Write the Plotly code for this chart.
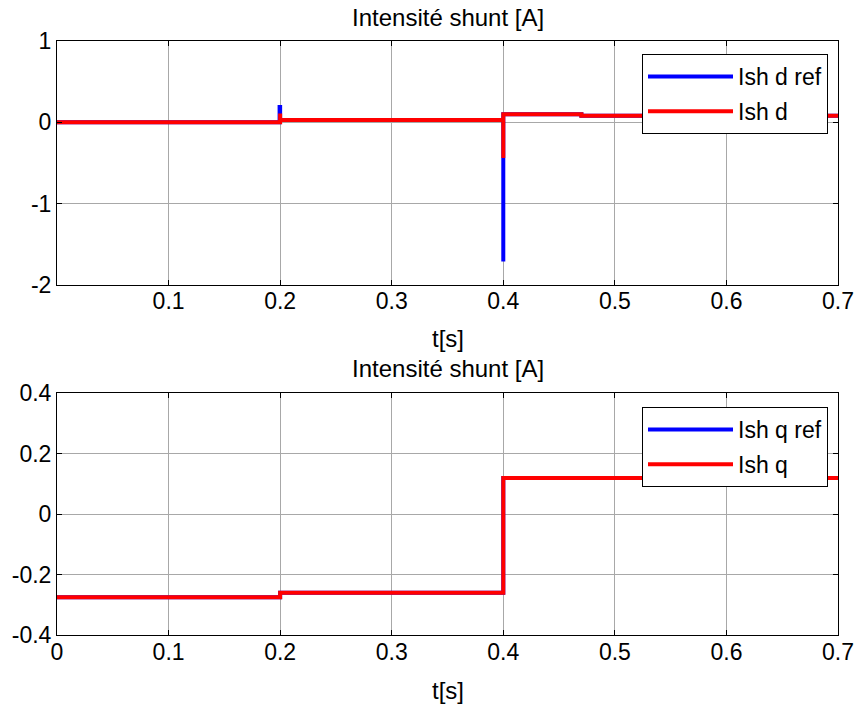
import plotly.graph_objects as go

# ---- data ----
t_d_ref = [0, 0.1995, 0.1995, 0.2, 0.2, 0.4, 0.4, 0.4, 0.47, 0.47, 0.7]
isd_ref = [0, 0, 0.19, 0.19, 0.03, 0.03, -1.71, 0.1, 0.1, 0.08, 0.08]
t_d = [0, 0.2, 0.2, 0.2, 0.4, 0.4, 0.4, 0.47, 0.47, 0.7]
isd = [0, 0, 0.11, 0.03, 0.03, -0.44, 0.1, 0.1, 0.08, 0.08]

t_q_ref = [0, 0.2, 0.2, 0.4, 0.4, 0.7]
isq_ref = [-0.275, -0.275, -0.26, -0.26, 0.119, 0.119]
t_q = [0, 0.2, 0.2, 0.4, 0.4, 0.7]
isq = [-0.275, -0.275, -0.26, -0.26, 0.119, 0.119]

x_ticks_top = [0.1, 0.2, 0.3, 0.4, 0.5, 0.6, 0.7]
x_ticks_bot = [0, 0.1, 0.2, 0.3, 0.4, 0.5, 0.6, 0.7]
y_ticks_top = [-2, -1, 0, 1]
y_ticks_bot = [-0.4, -0.2, 0, 0.2, 0.4]
title_text = "Intensité shunt [A]"
xlabel = "t[s]"

W, H = 857, 706
FONT = "Liberation Sans, Arial, sans-serif"
FS_TICK = 23
FS_TITLE = 24
FS_LEG = 23

def lbl(v):
    return "%g" % v

fig = go.Figure()
fig.add_trace(go.Scatter(x=t_d_ref, y=isd_ref, mode="lines", name="Ish d ref",
                         line=dict(color="#0000ff", width=4), xaxis="x", yaxis="y",
                         legend="legend", legendgroup="a"))
fig.add_trace(go.Scatter(x=t_d, y=isd, mode="lines", name="Ish d",
                         line=dict(color="#ff0000", width=4), xaxis="x", yaxis="y",
                         legend="legend", legendgroup="b"))
fig.add_trace(go.Scatter(x=t_q_ref, y=isq_ref, mode="lines", name="Ish q ref",
                         line=dict(color="#0000ff", width=4), xaxis="x2", yaxis="y2",
                         legend="legend2", legendgroup="c"))
fig.add_trace(go.Scatter(x=t_q, y=isq, mode="lines", name="Ish q",
                         line=dict(color="#ff0000", width=4), xaxis="x2", yaxis="y2",
                         legend="legend2", legendgroup="d"))

L, R = 57, 838
top_y0, top_y1 = 41, 285
bot_y0, bot_y1 = 393, 635

def py(p):
    return 1 - p / H

axis_common = dict(showline=True, linecolor="black", linewidth=1, mirror="allticks",
                   ticks="inside", ticklen=5, tickcolor="black",
                   showgrid=True, gridcolor="#a8a8a8", gridwidth=1,
                   zeroline=False, automargin=False,
                   tickfont=dict(family=FONT, size=FS_TICK, color="black"))

leg_common = dict(xanchor="right", yanchor="top", bgcolor="white",
                  bordercolor="black", borderwidth=1,
                  font=dict(family=FONT, size=FS_LEG, color="black"),
                  tracegroupgap=2, itemwidth=85)

fig.update_layout(
    width=W, height=H,
    margin=dict(l=L, r=W - R, t=0, b=0, autoexpand=False),
    paper_bgcolor="white", plot_bgcolor="white",
    showlegend=True,
    xaxis=dict(domain=[0, 1], range=[0, 0.7], anchor="y", ticklabelstandoff=-5,
               tickvals=x_ticks_top, ticktext=[lbl(v) for v in x_ticks_top], **axis_common),
    yaxis=dict(domain=[py(top_y1), py(top_y0)], range=[-2, 1], anchor="x",
               tickvals=y_ticks_top, ticktext=[lbl(v) for v in y_ticks_top], **axis_common),
    xaxis2=dict(domain=[0, 1], range=[0, 0.7], anchor="y2", ticklabelstandoff=-4,
                tickvals=x_ticks_bot, ticktext=[lbl(v) for v in x_ticks_bot], **axis_common),
    yaxis2=dict(domain=[py(bot_y1), py(bot_y0)], range=[-0.4, 0.4], anchor="x2",
                tickvals=y_ticks_bot, ticktext=[lbl(v) for v in y_ticks_bot], **axis_common),
    legend=dict(x=(828 - L) / (R - L), y=py(54), **leg_common),
    legend2=dict(x=(828 - L) / (R - L), y=py(407), **leg_common),
)

for yc, txt in [(17, title_text), (369, title_text), (338, xlabel), (690, xlabel)]:
    fig.add_annotation(text=txt, xref="paper", yref="paper", x=0.5, y=py(yc),
                       xanchor="center", yanchor="middle", showarrow=False,
                       font=dict(family=FONT, size=FS_TITLE, color="black"))

fig.write_html("out.html", config={"displayModeBar": False},
               post_script="document.body.style.margin='0';document.body.style.overflow='hidden';")
